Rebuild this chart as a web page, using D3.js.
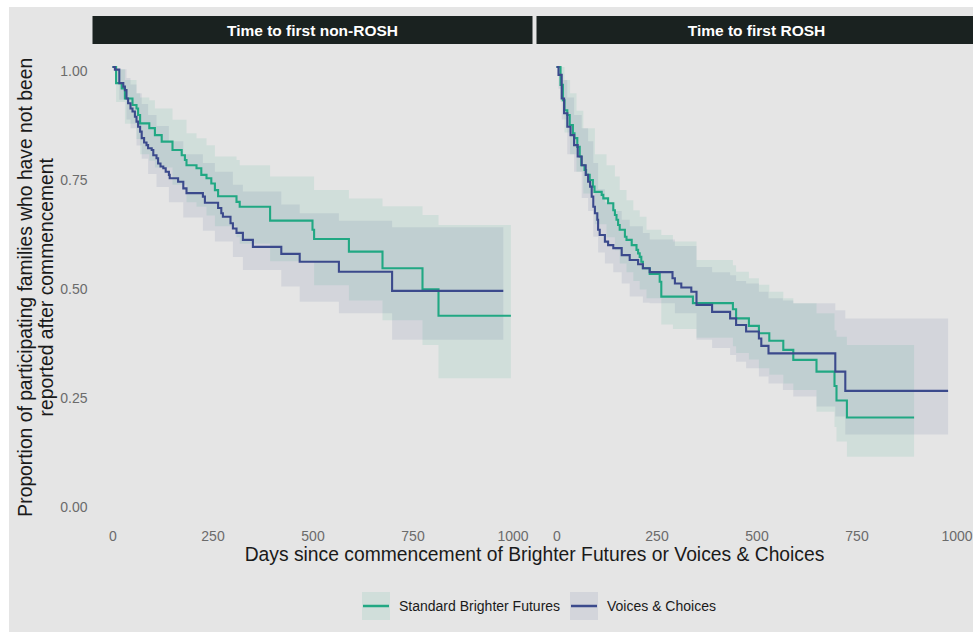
<!DOCTYPE html>
<html>
<head>
<meta charset="utf-8">
<script src="https://cdn.jsdelivr.net/npm/d3@7"></script>
<style>
  html, body { margin: 0; padding: 0; background: #ffffff; }
  svg { display: block; font-family: "Liberation Sans", Arial, Helvetica, sans-serif; }
</style>
</head>
<body>
<svg id="chart" width="973" height="632"></svg>
<script>
// Kaplan–Meier estimates: time to first non-ROSH / ROSH report, by programme.

const panelTitles = ["Time to first non-ROSH", "Time to first ROSH"];
const groupNames = ["Standard Brighter Futures", "Voices & Choices"];
const xTicks = [0, 250, 500, 750, 1000];
const yTicks = [0, 0.25, 0.5, 0.75, 1];

// --- Time to first non-ROSH: Standard Brighter Futures ---
const nonRoshSbfTime = [0, 9, 23, 31, 50, 60, 64, 69, 92, 106, 123, 150, 173, 181, 185, 210, 222, 235, 247, 256, 264, 310, 318, 394, 500, 504, 591, 675, 775, 815, 996];
const nonRoshSbfSurv = [1, 0.963, 0.951, 0.928, 0.913, 0.905, 0.890, 0.871, 0.860, 0.844, 0.829, 0.810, 0.798, 0.787, 0.775, 0.768, 0.753, 0.745, 0.733, 0.718, 0.704, 0.691, 0.680, 0.648, 0.627, 0.606, 0.577, 0.539, 0.491, 0.430, 0.430];
const nonRoshSbfCiTime  = [0, 9, 31, 60, 69, 92, 106, 150, 185, 210, 235, 256, 310, 318, 394, 504, 591, 675, 775, 815, 996];
const nonRoshSbfCiUpper = [1, 0.995, 0.97, 0.94, 0.93, 0.924, 0.905, 0.879, 0.848, 0.837, 0.821, 0.795, 0.787, 0.775, 0.749, 0.718, 0.699, 0.681, 0.661, 0.638, 0.638];
const nonRoshSbfCiLower = [1, 0.92, 0.87, 0.835, 0.80, 0.785, 0.77, 0.73, 0.69, 0.68, 0.66, 0.635, 0.61, 0.595, 0.555, 0.50, 0.465, 0.42, 0.363, 0.287, 0.287];

// --- Time to first non-ROSH: Voices & Choices ---
const nonRoshVcTime = [0, 6, 17, 27, 31, 35, 39, 45, 50, 56, 60, 64, 69, 73, 79, 85, 89, 98, 102, 110, 114, 120, 127, 133, 141, 143, 164, 177, 185, 226, 231, 264, 272, 276, 295, 301, 310, 326, 351, 422, 468, 566, 699, 977];
const nonRoshVcSurv = [1, 0.994, 0.963, 0.955, 0.947, 0.928, 0.917, 0.905, 0.898, 0.886, 0.875, 0.863, 0.852, 0.837, 0.827, 0.821, 0.814, 0.810, 0.798, 0.791, 0.779, 0.772, 0.768, 0.760, 0.753, 0.745, 0.737, 0.722, 0.711, 0.703, 0.689, 0.677, 0.665, 0.657, 0.642, 0.630, 0.620, 0.604, 0.588, 0.572, 0.554, 0.531, 0.487, 0.487];
const nonRoshVcCiTime  = [0, 17, 35, 45, 60, 73, 89, 110, 141, 177, 226, 256, 301, 326, 422, 468, 566, 699, 977];
const nonRoshVcCiUpper = [1, 0.995, 0.975, 0.96, 0.94, 0.915, 0.89, 0.865, 0.83, 0.80, 0.78, 0.76, 0.73, 0.715, 0.685, 0.665, 0.648, 0.633, 0.633];
const nonRoshVcCiLower = [1, 0.925, 0.88, 0.86, 0.82, 0.79, 0.755, 0.725, 0.69, 0.655, 0.625, 0.60, 0.565, 0.535, 0.497, 0.462, 0.436, 0.375, 0.375];

// --- Time to first ROSH: Standard Brighter Futures ---
const roshSbfTime = [0, 10, 16, 20, 27, 33, 41, 45, 52, 58, 62, 70, 74, 83, 91, 95, 113, 117, 129, 142, 146, 150, 154, 158, 171, 175, 188, 200, 204, 208, 212, 216, 233, 258, 262, 341, 441, 449, 481, 506, 532, 567, 592, 650, 695, 700, 726, 894];
const roshSbfSurv = [1, 0.959, 0.924, 0.901, 0.890, 0.867, 0.848, 0.837, 0.817, 0.795, 0.775, 0.764, 0.753, 0.741, 0.726, 0.714, 0.707, 0.699, 0.688, 0.672, 0.661, 0.650, 0.638, 0.627, 0.611, 0.604, 0.592, 0.581, 0.573, 0.565, 0.554, 0.539, 0.526, 0.508, 0.474, 0.459, 0.445, 0.424, 0.407, 0.390, 0.373, 0.352, 0.329, 0.302, 0.269, 0.236, 0.197, 0.197];
const roshSbfCiTime  = [0, 10, 20, 34, 50, 67, 96, 125, 146, 158, 175, 192, 208, 225, 262, 291, 350, 441, 449, 481, 506, 532, 567, 592, 650, 695, 700, 726, 894];
const roshSbfCiUpper = [1, 1, 0.97, 0.94, 0.90, 0.86, 0.80, 0.775, 0.749, 0.718, 0.695, 0.672, 0.657, 0.627, 0.615, 0.60, 0.558, 0.546, 0.531, 0.516, 0.501, 0.485, 0.470, 0.459, 0.436, 0.397, 0.382, 0.363, 0.363];
const roshSbfCiLower = [1, 0.92, 0.85, 0.80, 0.76, 0.71, 0.64, 0.61, 0.58, 0.55, 0.53, 0.51, 0.49, 0.47, 0.41, 0.40, 0.38, 0.36, 0.345, 0.33, 0.31, 0.295, 0.275, 0.26, 0.21, 0.175, 0.142, 0.107, 0.107];

// --- Time to first ROSH: Voices & Choices ---
const roshVcTime = [0, 5, 13, 19, 27, 35, 44, 53, 63, 73, 79, 84, 88, 92, 96, 102, 104, 108, 121, 129, 142, 163, 183, 204, 216, 233, 290, 296, 312, 337, 350, 389, 434, 449, 474, 506, 512, 530, 697, 722, 979];
const roshVcSurv = [1, 0.982, 0.928, 0.894, 0.863, 0.844, 0.821, 0.795, 0.775, 0.753, 0.737, 0.726, 0.703, 0.680, 0.665, 0.650, 0.627, 0.615, 0.600, 0.592, 0.585, 0.569, 0.558, 0.548, 0.539, 0.530, 0.516, 0.504, 0.495, 0.485, 0.455, 0.439, 0.424, 0.409, 0.394, 0.378, 0.361, 0.344, 0.302, 0.258, 0.258];
const roshVcCiTime  = [0, 5, 13, 27, 44, 63, 79, 92, 104, 121, 142, 163, 183, 216, 233, 296, 350, 389, 434, 449, 474, 506, 530, 566, 592, 650, 697, 722, 979];
const roshVcCiUpper = [1, 1, 0.97, 0.93, 0.89, 0.86, 0.83, 0.78, 0.72, 0.69, 0.67, 0.65, 0.635, 0.62, 0.605, 0.59, 0.542, 0.53, 0.523, 0.51, 0.504, 0.485, 0.47, 0.465, 0.459, 0.459, 0.443, 0.424, 0.424];
const roshVcCiLower = [1, 0.95, 0.88, 0.80, 0.76, 0.70, 0.67, 0.611, 0.575, 0.55, 0.53, 0.504, 0.474, 0.46, 0.459, 0.436, 0.375, 0.356, 0.340, 0.325, 0.310, 0.291, 0.275, 0.26, 0.245, 0.222, 0.199, 0.158, 0.158];

const groupColors = ["#21a883", "#3b4a8c"];

// Assemble the per-panel series from the arrays above.
const zipCurve = (t, s) => t.map((d, i) => ({ t: d, s: s[i] }));
const zipBand = (t, lo, hi) => t.map((d, i) => ({ t: d, lo: lo[i], hi: hi[i] }));

const panels = [
  {
    title: panelTitles[0],
    series: [
      { curve: zipCurve(nonRoshSbfTime, nonRoshSbfSurv), band: zipBand(nonRoshSbfCiTime, nonRoshSbfCiLower, nonRoshSbfCiUpper), color: groupColors[0] },
      { curve: zipCurve(nonRoshVcTime, nonRoshVcSurv), band: zipBand(nonRoshVcCiTime, nonRoshVcCiLower, nonRoshVcCiUpper), color: groupColors[1] }
    ]
  },
  {
    title: panelTitles[1],
    series: [
      { curve: zipCurve(roshSbfTime, roshSbfSurv), band: zipBand(roshSbfCiTime, roshSbfCiLower, roshSbfCiUpper), color: groupColors[0] },
      { curve: zipCurve(roshVcTime, roshVcSurv), band: zipBand(roshVcCiTime, roshVcCiLower, roshVcCiUpper), color: groupColors[1] }
    ]
  }
];

const svg = d3.select("#chart");
const W = 973, H = 632;
const FONT = "'Liberation Sans', Arial, sans-serif";

// plot background
svg.append("rect").attr("x", 9).attr("y", 7).attr("width", W - 9).attr("height", H - 7).attr("fill", "#e5e5e5");

const panelLeft = [92.5, 536.5];
const panelWidth = 440;
const panelTop = 45.2, panelBottom = 525.3;
const stripTop = 16, stripHeight = 28;

const y = d3.scaleLinear().domain([-0.05, 1.05]).range([panelBottom, panelTop]);

panels.forEach((p, pi) => {
  const x0 = panelLeft[pi];
  const x = d3.scaleLinear().domain([-50, 1050]).range([x0, x0 + panelWidth]);
  const g = svg.append("g");

  // facet strip
  g.append("rect").attr("x", x0).attr("y", stripTop).attr("width", panelWidth).attr("height", stripHeight).attr("fill", "#1a2220");
  g.append("text")
    .attr("x", x0 + panelWidth / 2).attr("y", stripTop + stripHeight / 2)
    .attr("dy", "0.36em").attr("text-anchor", "middle")
    .attr("fill", "#ffffff").attr("font-weight", "bold").attr("font-size", 15.5)
    .text(p.title);

  // confidence bands
  const area = d3.area().curve(d3.curveStepAfter)
    .x(d => x(d.t)).y0(d => y(d.lo)).y1(d => y(d.hi));
  p.series.forEach(s => {
    g.append("path").datum(s.band).attr("d", area)
      .attr("fill", s.color).attr("fill-opacity", 0.1).attr("stroke", "none");
  });

  // survival step lines
  const line = d3.line().curve(d3.curveStepAfter).x(d => x(d.t)).y(d => y(d.s));
  p.series.forEach(s => {
    g.append("path").datum(s.curve).attr("d", line)
      .attr("fill", "none").attr("stroke", s.color).attr("stroke-width", 2.1);
  });

  // x axis
  const xAxis = g.append("g").attr("transform", `translate(0,${panelBottom})`)
    .call(d3.axisBottom(x).tickValues(xTicks).tickFormat(d3.format("d")).tickSize(0).tickPadding(5.5));
  xAxis.select(".domain").remove();
  xAxis.selectAll("text").attr("fill", "#6b6b6b").attr("font-size", 14).attr("font-family", FONT);

  // y axis on the first panel only
  if (pi === 0) {
    const yAxis = g.append("g").attr("transform", `translate(${x0},0)`)
      .call(d3.axisLeft(y).tickValues(yTicks).tickFormat(d3.format(".2f")).tickSize(0).tickPadding(5));
    yAxis.select(".domain").remove();
    yAxis.selectAll("text").attr("fill", "#6b6b6b").attr("font-size", 14).attr("dy", "0.57em").attr("font-family", FONT);
  }
});

// axis titles
svg.append("text")
  .attr("x", (panelLeft[0] + panelLeft[1] + panelWidth) / 2).attr("y", 561)
  .attr("text-anchor", "middle").attr("font-size", 19.3).attr("fill", "#1a1a1a")
  .text("Days since commencement of Brighter Futures or Voices & Choices");

const yTitle = svg.append("text")
  .attr("transform", `translate(0,${(panelTop + panelBottom) / 2 + 2}) rotate(-90)`)
  .attr("text-anchor", "middle").attr("font-size", 19.3).attr("fill", "#1a1a1a");
yTitle.append("tspan").attr("x", 0).attr("y", 32).text("Proportion of participating families who have not been");
yTitle.append("tspan").attr("x", 0).attr("y", 52.5).text("reported after commencement");

// legend
const legendKeys = [362, 570];
groupNames.forEach((name, i) => {
  const lx = legendKeys[i];
  const lg = svg.append("g");
  lg.append("rect").attr("x", lx).attr("y", 592).attr("width", 28).attr("height", 28)
    .attr("fill", groupColors[i]).attr("fill-opacity", 0.1);
  lg.append("line").attr("x1", lx + 1).attr("x2", lx + 27).attr("y1", 606).attr("y2", 606)
    .attr("stroke", groupColors[i]).attr("stroke-width", 2.5);
  lg.append("text").attr("x", lx + 37).attr("y", 606).attr("dy", "0.36em")
    .attr("font-size", 14).attr("fill", "#1a1a1a").text(name);
});
</script>
</body>
</html>
